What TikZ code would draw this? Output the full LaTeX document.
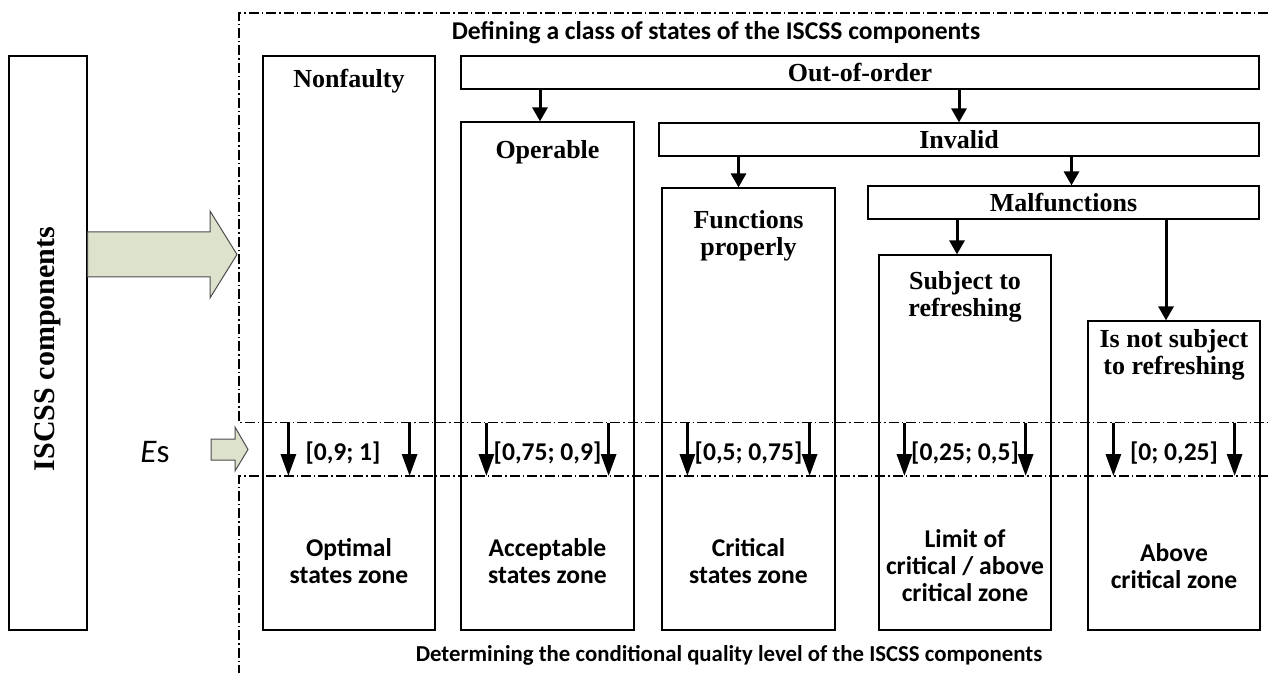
\documentclass[tikz,border=0pt]{standalone}
\usepackage{fontspec}
\setmainfont{Liberation Serif}
\newfontfamily\calibri{Carlito}
\usetikzlibrary{arrows.meta,positioning,calc}
\definecolor{arrowfill}{RGB}{221,226,205}

\begin{document}
\begin{tikzpicture}[x=0.5pt,y=-0.5pt,
  box/.style={draw,line width=0.6pt,inner sep=0pt},
  head/.style={font=\fontsize{13}{13.5}\selectfont\bfseries\rmfamily,align=center,inner sep=0pt},
  zone/.style={font=\fontsize{12.8}{13.5}\selectfont\bfseries\calibri,align=center,inner sep=0pt},
  frame/.style={line width=0.6pt,dash pattern=on 5pt off 1.5pt on 0.7pt off 1.5pt},
  tree/.style={-{Triangle[length=7pt,width=7.5pt]},line width=1.5pt},
  band/.style={-{Triangle[length=11pt,width=7.5pt]},line width=1.5pt},
  fat/.style={draw=black!70,fill=arrowfill,line width=0.5pt},
]
\useasboundingbox (0,0) rectangle (1268,673);

% frame of the two stages
\coordinate (ftop) at (239,13);
\coordinate (bandtop) at (239,422.5);
\coordinate (bandbot) at (239,476);
\coordinate (fbot) at (239,673);
\coordinate (bandmid) at (0,453);
\coordinate (zonemid) at (0,561);
\coordinate (zonelow) at (0,566);
\draw[frame] (1268,13) -- (ftop) -- (bandtop) -- (1268,422.5);
\draw[frame] (1268,476) -- (bandbot) -- (fbot);

% left column
\node[box,minimum width=39pt,minimum height=287pt] (iscss) at (48,343) {};
\node[head,rotate=90,font=\fontsize{15}{15}\selectfont\bfseries\rmfamily] (iscsst) at ([yshift=-3pt]iscss.center) {ISCSS components};
\filldraw[fat] (iscss.east |- 0,232) -- (210,232) -- (210,211) -- (237,254.5) -- (210,298) -- (210,277) -- (iscss.east |- 0,277) -- cycle;
\node[inner sep=0pt,font=\fontsize{16.5}{16.5}\selectfont\calibri] (es) at (155,452) {\itshape E\upshape s};
\filldraw[fat] (211,439) -- (235,439) -- (235,427) -- (248,449.5) -- (235,471) -- (235,460) -- (211,460) -- cycle;

% state boxes
\node[box,minimum width=86pt,minimum height=287pt] (nonfaulty) at (349,343) {};
\node[box,minimum width=399pt,minimum height=16.5pt] (outorder) at (860,72.5) {};
\node[box,minimum width=86.5pt,minimum height=254pt] (operable) at (547.5,376) {};
\node[box,minimum width=300pt,minimum height=16.5pt] (invalid) at (959,139.5) {};
\node[box,minimum width=86.5pt,minimum height=221pt] (functions) at (748.5,409) {};
\node[box,minimum width=195.5pt,minimum height=16.5pt] (malfunc) at (1063.5,202.5) {};
\node[box,minimum width=86pt,minimum height=187.5pt] (subject) at (965,442.5) {};
\node[box,minimum width=86pt,minimum height=154.5pt] (notsubject) at (1174,475.5) {};

\node[head] (nonfaultyt) at ([yshift=-13pt]nonfaulty.north) {Nonfaulty};
\node[head] (outordert) at (outorder) {Out-of-order};
\node[head] (operablet) at ([yshift=-15.5pt]operable.north) {Operable};
\node[head] (invalidt) at (invalid) {Invalid};
\node[head] (functionst) at ([yshift=-24.25pt]functions.north) {Functions\\properly};
\node[head] (malfunct) at (malfunc) {Malfunctions};
\node[head] (subjectt) at ([yshift=-21.25pt]subject.north) {Subject to\\refreshing};
\node[head] (notsubjectt) at ([yshift=-17.25pt]notsubject.north) {Is not subject\\to refreshing};

% hierarchy
\draw[tree] ([xshift=-3.75pt]operable.north |- outorder.south) -- ([xshift=-3.75pt]operable.north);
\draw[tree] (invalid.north |- outorder.south) -- (invalid.north);
\draw[tree] ([xshift=-5pt]functions.north |- invalid.south) -- ([xshift=-5pt]functions.north);
\draw[tree] ([xshift=4pt]malfunc.north |- invalid.south) -- ([xshift=4pt]malfunc.north);
\draw[tree] ([xshift=-4pt]subject.north |- malfunc.south) -- ([xshift=-4pt]subject.north);
\draw[tree] ([xshift=-4pt]notsubject.north |- malfunc.south) -- ([xshift=-4pt]notsubject.north);

% level of E_s for each class
\foreach \b in {nonfaulty,operable,functions,subject,notsubject}{
  \draw[band] ([xshift=13pt]\b.west |- bandtop) -- ([xshift=13pt]\b.west |- bandbot);
  \draw[band] ([xshift=-13pt]\b.east |- bandtop) -- ([xshift=-13pt]\b.east |- bandbot);
}
\node[zone] (nonfaultyr) at ([xshift=-3pt]nonfaulty |- bandmid) {[0,9; 1]};
\node[zone] (operabler) at (operable |- bandmid) {[0,75; 0,9]};
\node[zone] (functionsr) at (functions |- bandmid) {[0,5; 0,75]};
\node[zone] (subjectr) at (subject |- bandmid) {[0,25; 0,5]};
\node[zone] (notsubjectr) at (notsubject |- bandmid) {[0; 0,25]};

\node[zone] (nonfaultyz) at (nonfaulty |- zonemid) {Optimal\\states zone};
\node[zone] (operablez) at (operable |- zonemid) {Acceptable\\states zone};
\node[zone] (functionsz) at (functions |- zonemid) {Critical\\states zone};
\node[zone] (subjectz) at (subject |- zonelow) {Limit of\\critical / above\\critical zone};
\node[zone] (notsubjectz) at (notsubject |- zonelow) {Above\\critical zone};

\node[zone] (deftitle) at (716,33) {Defining a class of states of the ISCSS components};
\node[zone,font=\fontsize{11.4}{13}\selectfont\bfseries\calibri] (dettitle) at (729,655) {Determining the conditional quality level of the ISCSS components};

\end{tikzpicture}
\end{document}
